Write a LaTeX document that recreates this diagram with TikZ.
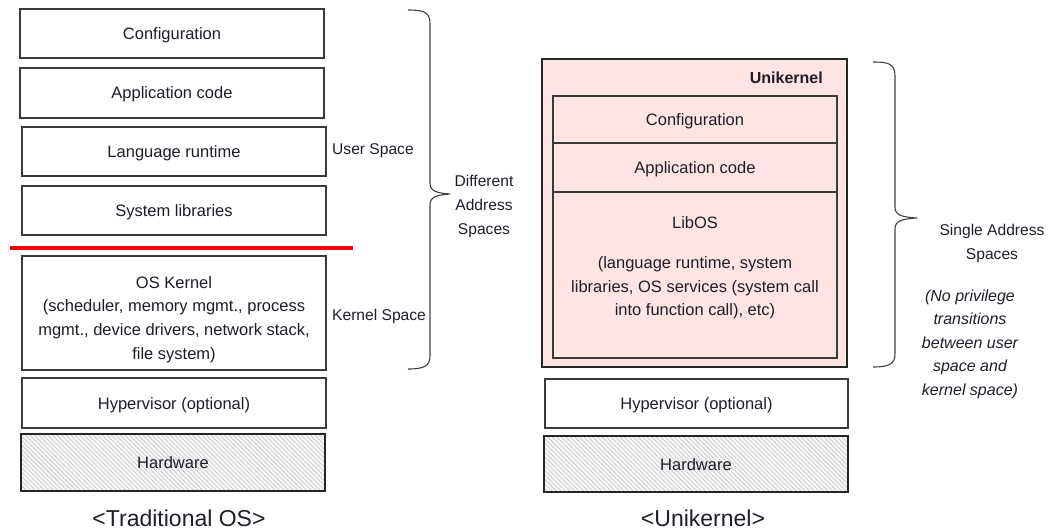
\documentclass[tikz,border=0pt]{standalone}
\usepackage{fontspec}
\setmainfont{Liberation Sans}
\usetikzlibrary{patterns.meta}
\definecolor{ink}{HTML}{1E1E2A}
\definecolor{edge}{HTML}{3A3A3A}
\definecolor{unifill}{HTML}{FFE4E4}
\definecolor{hwfill}{HTML}{F6F6F6}
% extra room above the first line of a text block
\newcommand{\padtop}[1]{\rule{0pt}{#1}}
\tikzset{
  txt/.style={text=ink, font=\fontsize{16.5}{23.7}\selectfont, align=center, inner sep=0pt},
  side/.style={text=ink, font=\fontsize{15.6}{24}\selectfont, align=center, inner sep=0pt},
  oneline/.style={text height=15.5pt, text depth=3.5pt},
  layer/.style={txt, draw=edge, line width=1.2pt, rectangle, fill=white},
  hw/.style={layer, oneline, line width=2.4pt, draw=black!85, preaction={fill=hwfill},
    fill=none, pattern={Lines[angle=-45, distance=3.2pt, line width=0.55pt]}, pattern color=black!24},
  stack/.style={draw=edge, line width=1.2pt, fill=none},
  caption/.style={text=ink, font=\fontsize{23}{26}\selectfont, inner sep=0pt},
  note/.style={side, font=\fontsize{16}{23.5}\selectfont\itshape},
  bracepath/.style={draw=black!75, line width=1.1pt, line join=round},
}
\begin{document}
\begin{tikzpicture}[x=1pt, y=-1pt]
\useasboundingbox (0,0) rectangle (1050,532);

% ---------- traditional OS stack ----------
\node[layer, oneline, minimum width=304pt, minimum height=49pt] (confL) at (172,33.5) {Configuration};
\node[layer, oneline, minimum width=304pt, minimum height=50pt] (appL) at (172,93) {Application code};
\node[layer, oneline, minimum width=304pt, minimum height=49pt] (lang) at (174,151.5) {Language runtime};
\node[layer, oneline, minimum width=304pt, minimum height=49pt] (syslib) at (174,210.5) {System libraries};
\node[layer, minimum width=304pt, minimum height=114pt] (kern) at (174,313)
  {\padtop{25pt}OS Kernel\\(scheduler, memory mgmt., process\\mgmt., device drivers, network stack,\\file system)};
\node[layer, oneline, minimum width=304pt, minimum height=50pt] (hypL) at (174,403) {Hypervisor (optional)};
\node[hw, minimum width=304pt, minimum height=57pt] (hwL) at (173,462.5) {Hardware};

% user / kernel boundary
\coordinate (sepA) at (10,248);
\coordinate (sepB) at (353,248);
\draw[red, line width=3.5pt] (sepA) -- (sepB);

\node[side, anchor=west] (user) at (332,151) {User Space};
\node[side, anchor=west] (kspace) at (332,316) {Kernel Space};

% brace: different address spaces
\draw[bracepath] (408,10) .. controls (424,10) and (430,12) .. (430,24)
  -- (430,183) .. controls (430,191) and (436,193) .. (450,194)
  .. controls (436,195) and (430,197) .. (430,205)
  -- (430,356) .. controls (430,366) and (424,369) .. (408,369);
\node[side] (diff) at (484,206) {Different\\Address\\Spaces};

\node[caption, anchor=base] (capL) at (179,526) {<Traditional OS>};

% ---------- unikernel stack ----------
\node[draw=black!85, line width=2.4pt, fill=unifill, minimum width=305pt, minimum height=308pt, inner sep=0pt] (uni) at (694.5,213) {};
\node[side, font=\fontsize{16}{20}\selectfont\bfseries, anchor=east] (unititle) at (823,78) {Unikernel};
\node[stack, txt, oneline, minimum width=284pt, minimum height=47pt] (confR) at (695,119.5) {Configuration};
\node[stack, txt, oneline, minimum width=284pt, minimum height=49pt] (appR) at (695,167.5) {Application code};
\node[stack, minimum width=284pt, minimum height=166pt, inner sep=0pt] (libos) at (695,275) {};
\node[txt] (libosname) at (695,223) {LibOS};
\node[txt] (libostext) at (695,288) {(language runtime, system\\libraries, OS services (system call\\into function call), etc)};

\node[layer, oneline, minimum width=303pt, minimum height=49pt] (hypR) at (696.5,403.5) {Hypervisor (optional)};
\node[hw, minimum width=304pt, minimum height=56pt] (hwR) at (696,464) {Hardware};

% brace: single address space
\draw[bracepath] (873,62) .. controls (889,62) and (895,64) .. (895,76)
  -- (895,207) .. controls (895,215) and (901,217) .. (917,218)
  .. controls (901,219) and (895,221) .. (895,229)
  -- (895,354) .. controls (895,364) and (889,367) .. (873,367);
\node[side] (single) at (992,243.5) {Single Address\\Spaces};
\node[note] (noprv) at (970,344) {(No privilege\\transitions\\between user\\space and\\kernel space)};

\node[caption, anchor=base] (capR) at (703,526) {<Unikernel>};
\end{tikzpicture}
\end{document}
